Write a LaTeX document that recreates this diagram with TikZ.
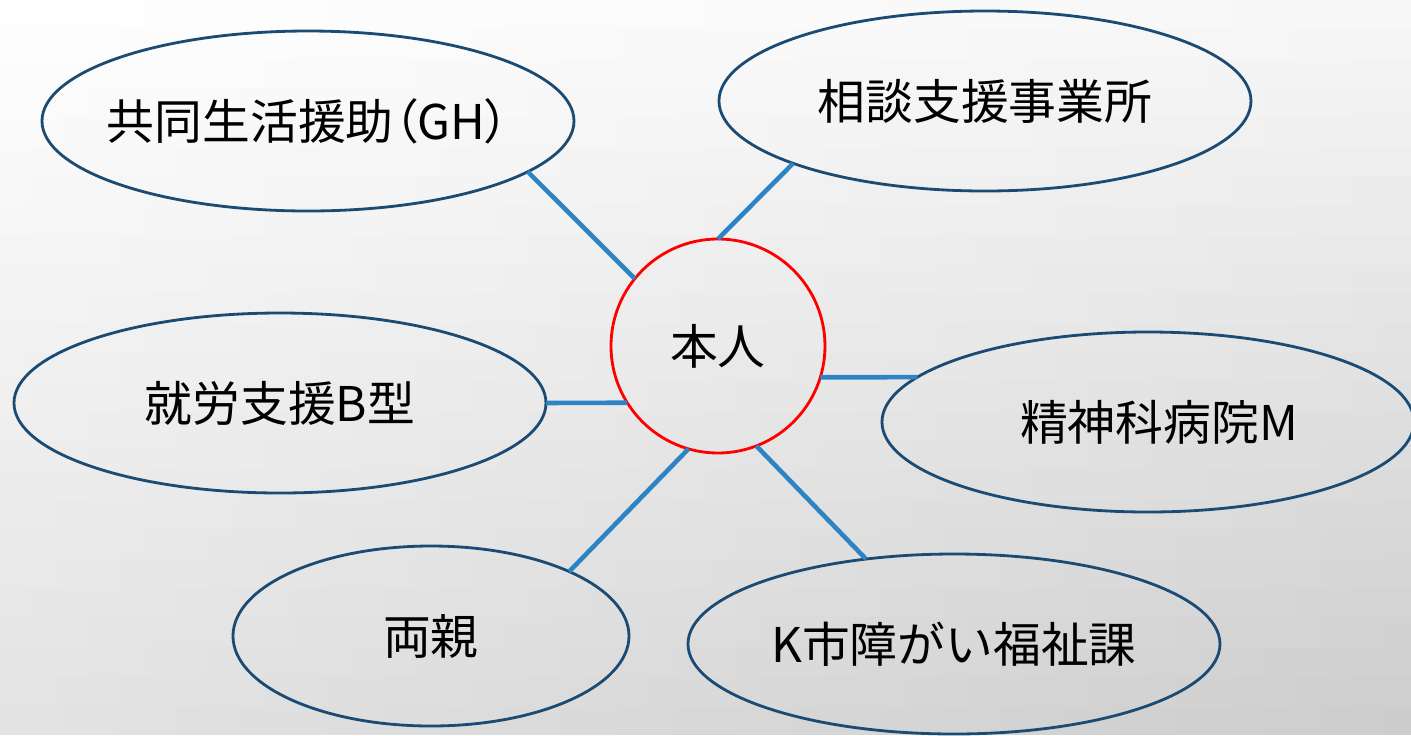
\documentclass[tikz,border=0pt]{standalone}
\usepackage{fontspec}
\setmainfont{Noto Sans CJK JP}
\usetikzlibrary{positioning}
\usetikzlibrary{backgrounds}
\usetikzlibrary{shapes,shapes.geometric}
\definecolor{kon}{HTML}{1B4A72}
\definecolor{senblue}{HTML}{2C84C4}
\tikzstyle{kikan} = [draw=kon, ellipse, line width=0.8pt, minimum width=5.32cm, minimum height=1.8cm, inner xsep=-1cm, inner ysep=0pt, outer sep=0pt, font=\fontsize{13.6}{16}\selectfont]
\tikzstyle{person} = [draw=red, circle, line width=0.8pt, minimum size=2.14cm, inner sep=0pt, outer sep=0pt, font=\fontsize{13.6}{16}\selectfont]
\tikzstyle{link} = [draw=senblue, line width=1.3pt]

\begin{document}
\begin{tikzpicture}[on grid]
	\useasboundingbox (-7.18,-3.89) rectangle (6.93,3.46);

	\node [person] (honnin) {本人};
	\node [kikan, above left=2.25cm and 4.10cm of honnin] (gh) {\addfontfeatures{RawFeature=+palt}共同生活援助（GH）};
	\node [kikan, above right=2.45cm and 2.67cm of honnin] (soudan) {相談支援事業所};
	\node [kikan, below left=0.57cm and 4.38cm of honnin] (shuro) {就労支援B型\hspace{0.24cm}};
	\node [kikan, below right=0.76cm and 4.30cm of honnin] (byoin) {\hspace{0.22cm}精神科病院M};
	\node [kikan, minimum width=3.96cm, below left=2.90cm and 2.87cm of honnin] (ryoshin) {両親\hspace{0.24cm}};
	\node [kikan, below right=2.98cm and 2.36cm of honnin] (fukushika) {K市障がい福祉課};

	\draw [link] (gh.-13) -- (honnin.141);
	\draw [link] (soudan.198) -- (honnin.90);
	\draw [link] (shuro.0) -- (honnin.212);
	\draw [link] (byoin.169) -- (honnin.-17);
	\draw [link] (ryoshin.25) -- (honnin.254);
	\draw [link] (fukushika.136) -- (honnin.-69);

	% background: light grey towards the lower right
	\begin{scope}[on background layer]
		\foreach \i in {0,...,47} {
			\foreach \j in {0,...,24} {
				\pgfmathsetmacro{\u}{(\i+0.5)/48}
				\pgfmathsetmacro{\v}{(\j+0.5)/25}
				\pgfmathsetmacro{\p}{(1-\u)*(1-\v)*11 + \u*(1-\v)*20 + \u*\v*3}
				\fill [black!\p] ({-7.18+\i*0.294},{-3.89+\j*0.294}) rectangle +(0.30,0.30);
			}
		}
	\end{scope}
\end{tikzpicture}
\end{document}
